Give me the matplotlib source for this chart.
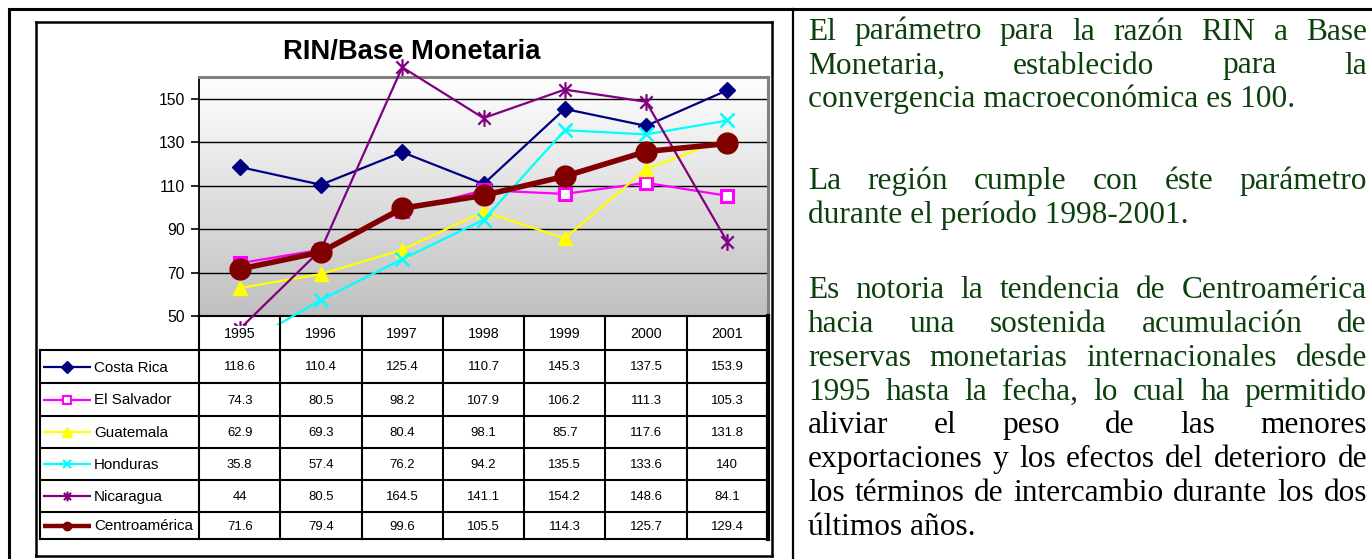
import matplotlib
matplotlib.use("Agg")
import matplotlib.pyplot as plt
import numpy as np
from matplotlib import font_manager as fm
from matplotlib.path import Path
from matplotlib.patches import Rectangle
from matplotlib.colors import LinearSegmentedColormap

# data
years = ["1995", "1996", "1997", "1998", "1999", "2000", "2001"]
countries = ["Costa Rica", "El Salvador", "Guatemala", "Honduras", "Nicaragua", "Centroamérica"]
costa_rica = [118.6, 110.4, 125.4, 110.7, 145.3, 137.5, 153.9]
el_salvador = [74.3, 80.5, 98.2, 107.9, 106.2, 111.3, 105.3]
guatemala = [62.9, 69.3, 80.4, 98.1, 85.7, 117.6, 131.8]
honduras = [35.8, 57.4, 76.2, 94.2, 135.5, 133.6, 140]
nicaragua = [44, 80.5, 164.5, 141.1, 154.2, 148.6, 84.1]
centroamerica = [71.6, 79.4, 99.6, 105.5, 114.3, 125.7, 129.4]
# table shows the values as printed in the source
table_text = [
    ["118.6", "110.4", "125.4", "110.7", "145.3", "137.5", "153.9"],
    ["74.3", "80.5", "98.2", "107.9", "106.2", "111.3", "105.3"],
    ["62.9", "69.3", "80.4", "98.1", "85.7", "117.6", "131.8"],
    ["35.8", "57.4", "76.2", "94.2", "135.5", "133.6", "140"],
    ["44", "80.5", "164.5", "141.1", "154.2", "148.6", "84.1"],
    ["71.6", "79.4", "99.6", "105.5", "114.3", "125.7", "129.4"],
]
yticks = [50, 70, 90, 110, 130, 150]
title = "RIN/Base Monetaria"
caption = "Gráfico: RIN a Base Monetaria en Centroamérica"

paragraphs = [
    ["El parámetro para la razón RIN a Base",
     "Monetaria, establecido para la",
     "convergencia macroeconómica es 100."],
    ["La región cumple con éste parámetro",
     "durante el período 1998-2001."],
    ["Es notoria la tendencia de Centroamérica",
     "hacia una sostenida acumulación de",
     "reservas monetarias internacionales desde",
     "1995 hasta la fecha, lo cual ha permitido",
     "aliviar el peso de las menores",
     "exportaciones y los efectos del deterioro de",
     "los términos de intercambio durante los dos",
     "últimos años."],
]


def has_font(name):
    try:
        fm.findfont(fm.FontProperties(family=name), fallback_to_default=False)
        return True
    except ValueError:
        return False


# Arial Narrow look-alike if present, otherwise plain Liberation Sans at smaller sizes
if has_font("Liberation Sans Narrow"):
    NARROW, SHRINK = "Liberation Sans Narrow", 1.0
else:
    NARROW, SHRINK = "Liberation Sans", 0.84
SERIF = "Liberation Serif"
GREEN = "#0b3f0b"

W, H = 1372, 559
fig = plt.figure(figsize=(W / 100, H / 100), dpi=100)
fig.patch.set_facecolor("white")

# plot area in pixels
PL, PR, PT, PB = 199, 768, 77, 316
ax = fig.add_axes([PL / W, (H - PB) / H, (PR - PL) / W, (PB - PT) / H])

grad = LinearSegmentedColormap.from_list("g", ["#ffffff", "#c0c0c0"])
ax.imshow(np.linspace(1, 0, 256)[:, None], cmap=grad, origin="lower",
          extent=[-0.5, 6.5, 50, 160], aspect="auto", zorder=0)
ax.set_xlim(-0.5, 6.5)
ax.set_ylim(50, 160)

for v in yticks[1:]:
    ax.axhline(v, color="black", lw=1.0, zorder=1)

ax.set_xticks([])
ax.set_yticks(yticks)
ax.set_yticklabels([str(v) for v in yticks])
ax.tick_params(axis="y", direction="out", length=6, width=1.2, pad=4,
               labelsize=13.5 * SHRINK)
for lbl in ax.get_yticklabels():
    lbl.set_fontfamily(NARROW)
ax.spines["left"].set_linewidth(1.3)
ax.spines["bottom"].set_linewidth(1.5)
ax.spines["top"].set_color("#808080")
ax.spines["top"].set_linewidth(2.2)
ax.spines["right"].set_color("#808080")
ax.spines["right"].set_linewidth(2.2)

star = Path([(-1, -1), (1, 1), (-1, 1), (1, -1), (0, -1.35), (0, 1.35)],
            [Path.MOVETO, Path.LINETO, Path.MOVETO, Path.LINETO, Path.MOVETO, Path.LINETO])

series = [costa_rica, el_salvador, guatemala, honduras, nicaragua, centroamerica]
styles = [
    dict(color="#000080", marker="D", ms=8.5, lw=1.6, mfc="#000080", mec="#000080"),
    dict(color="#ff00ff", marker="s", ms=8, lw=1.6, mfc="white", mec="#ff00ff", mew=2.2),
    dict(color="#ffff00", marker="^", ms=10, lw=1.6, mfc="#ffff00", mec="#ffff00"),
    dict(color="#00ffff", marker="x", ms=10, lw=1.6, mec="#00ffff", mew=1.8),
    dict(color="#800080", marker=star, ms=12, lw=1.6, mfc="none", mec="#800080", mew=1.6),
    dict(color="#800000", marker="o", ms=15, lw=4.0, mfc="#800000", mec="#800000"),
]
legend_ms = [6, 6, 7, 6, 7, 6]

xs = np.arange(len(years))
clip = Rectangle((0, -(325 - PB) / (PB - PT)), 1, 2, transform=ax.transAxes)
for vals, st in zip(series, styles):
    ln, = ax.plot(xs, vals, zorder=3, **st)
    ln.set_clip_path(clip)

# overlay in pixel coordinates for frames, table and text
ov = fig.add_axes([0, 0, 1, 1], zorder=5)
ov.set_xlim(0, W)
ov.set_ylim(H, 0)
ov.axis("off")


def seg(x0, y0, x1, y1, lw=1.5, color="black"):
    ov.plot([x0, x1], [y0, y1], color=color, lw=lw, solid_capstyle="projecting")


# outer page frame
seg(9, 9, W, 9, lw=2.2)
seg(9, 9, 9, H, lw=2.2)
seg(793, 9, 793, H, lw=1.6)
# chart frame
seg(36, 22, 772, 22, lw=1.8)
seg(36, 22, 36, 556, lw=1.8)
seg(772, 22, 772, 556, lw=1.8)
seg(36, 556, 772, 556, lw=1.8)

ov.text(412, 52, title, ha="center", va="center", fontsize=23.5 * SHRINK,
        fontweight="bold", family=NARROW)

# data table
col_w = (PR - PL) / len(years)
row_edges = [350, 383, 416, 448, 480, 512, 539]
TL = 40
for k in range(len(years) + 1):
    x = PL + k * col_w
    seg(x, PB, x, row_edges[-1], lw=1.5 if k < len(years) else 3.0)
seg(TL, row_edges[0], TL, row_edges[-1], lw=1.5)
for y in row_edges:
    seg(TL, y, PR, y, lw=1.5)

for k, yr in enumerate(years):
    ov.text(PL + (k + 0.5) * col_w, (PB + row_edges[0]) / 2 + 1, yr, ha="center",
            va="center", fontsize=12.2 * SHRINK, family=NARROW)

for r, name in enumerate(countries):
    yc = (row_edges[r] + row_edges[r + 1]) / 2 + 1
    for k in range(len(years)):
        ov.text(PL + (k + 0.5) * col_w, yc, table_text[r][k], ha="center",
                va="center", fontsize=11.2 * SHRINK, family=NARROW)
    st = styles[r]
    ov.plot([43, 91], [yc - 1, yc - 1], color=st["color"],
            lw=3.2 if r == 5 else 1.6, solid_capstyle="butt")
    ov.plot([67], [yc - 1], linestyle="none", marker=st["marker"], ms=legend_ms[r],
            mfc=st.get("mfc", st["color"]), mec=st["mec"], mew=min(st.get("mew", 1.0), 1.5))
    ov.text(94, yc, name, ha="left", va="center", fontsize=13 * SHRINK, family=NARROW)

# caption cut off at the very top of the page: only the glyph bottoms show
ov.text(80, 0.2, caption, ha="left", va="baseline", fontsize=13, color="#a0a0a0",
        family="Liberation Sans")

# right-hand justified text
fig.canvas.draw()
renderer = fig.canvas.get_renderer()
TX0, TX1 = 808, 1367
baselines = [[39.5, 73.5, 107.5], [189, 223],
             [298, 332, 366, 400, 433, 467, 501, 535]]
FS = 22.6
for p, lines in enumerate(paragraphs):
    for i, line in enumerate(lines):
        y = baselines[p][i]
        col = "black" if (p == 2 and i >= 4) else GREEN
        if i == len(lines) - 1:
            ov.text(TX0, y, line, ha="left", va="baseline", fontsize=FS,
                    family=SERIF, color=col)
            continue
        words = line.split()
        objs = [ov.text(0, y, w, ha="left", va="baseline", fontsize=FS,
                        family=SERIF, color=col) for w in words]
        widths = [o.get_window_extent(renderer).width for o in objs]
        gap = (TX1 - TX0 - sum(widths)) / (len(words) - 1)
        x = TX0
        for o, wd in zip(objs, widths):
            o.set_x(x)
            x += wd + gap

fig.savefig("out.png", dpi=100, facecolor="white")
